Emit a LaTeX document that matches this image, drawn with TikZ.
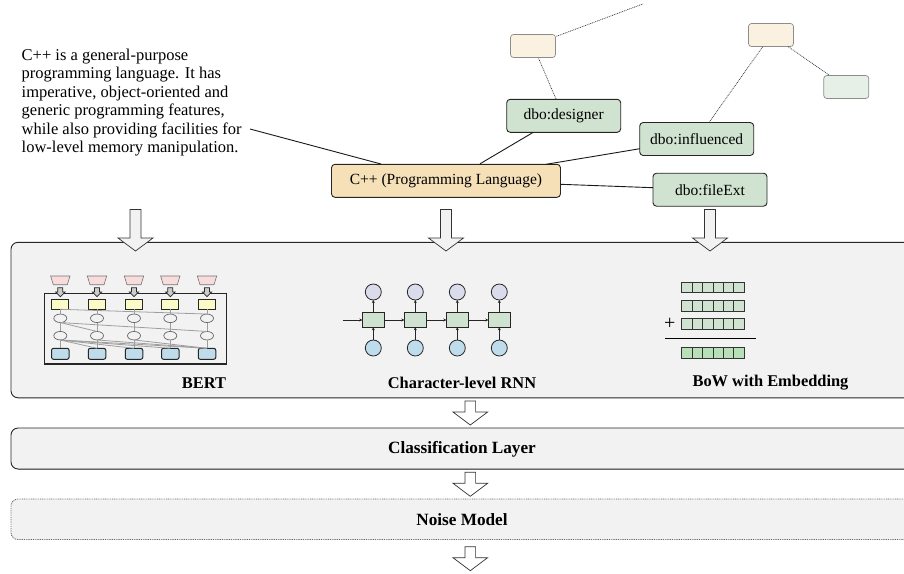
\documentclass[tikz,border=0pt]{standalone}
\usepackage{fontspec}
\setmainfont{Liberation Serif}
\usetikzlibrary{positioning,calc,shapes.geometric,arrows.meta}
\definecolor{pgray}{HTML}{F2F2F2}
\definecolor{kgreen}{HTML}{D0E3D0}
\definecolor{korange}{HTML}{F6E0B8}
\definecolor{lorange}{HTML}{FAF1E0}
\definecolor{lgreen}{HTML}{E7F0E7}
\definecolor{bblue}{HTML}{BEDCEB}
\definecolor{byellow}{HTML}{FBFBC8}
\definecolor{bpink}{HTML}{F8DCDC}
\definecolor{rlav}{HTML}{DADCEC}
\definecolor{bowg}{HTML}{B8E0B8}
\tikzset{
 x=1pt,y=-1pt,
 every node/.style={inner sep=0pt,outer sep=0pt,font=\fontsize{15.5}{18}\selectfont},
 panel/.style={rounded corners=7pt,draw=black!85,line width=.9pt,fill=pgray,minimum width=910pt,anchor=north west},
 panelnote/.style={font=\fontsize{16.4}{18}\selectfont\bfseries},
 kg/.style={rounded corners=3.5pt,draw=black!85,line width=.9pt,fill=kgreen,minimum width=114pt,minimum height=33pt},
 central/.style={rounded corners=3.5pt,draw=black!85,line width=.9pt,fill=korange,minimum width=229pt,minimum height=33pt},
 ghosto/.style={rounded corners=3pt,draw=black!45,line width=.7pt,fill=lorange,minimum width=45pt,minimum height=23pt},
 ghostg/.style={rounded corners=3pt,draw=black!45,line width=.7pt,fill=lgreen,minimum width=45pt,minimum height=23pt},
 solidlink/.style={draw=black!90,line width=.9pt},
 dotlink/.style={draw=black!80,line width=.7pt,dash pattern=on .9pt off .9pt},
 flow/.style={draw=black!80,line width=.7pt,fill=pgray},
 enc/.style={rectangle,draw=black!85,line width=1pt,fill=bblue,rounded corners=2pt,minimum width=17.5pt,minimum height=11pt},
 hid/.style={ellipse,draw=black!60,line width=.7pt,fill=pgray,minimum width=13pt,minimum height=8.5pt},
 inp/.style={rectangle,draw=black!85,line width=1pt,fill=byellow,minimum width=17pt,minimum height=10pt},
 bline/.style={draw=black!38,line width=.8pt},
 cell/.style={rectangle,draw=black!85,line width=.8pt,fill=kgreen,minimum width=22pt,minimum height=14.5pt},
 rout/.style={circle,draw=black!85,line width=.8pt,fill=rlav,minimum size=16pt},
 rin/.style={circle,draw=black!85,line width=.8pt,fill=bblue,minimum size=16pt},
 rarrow/.style={draw=black!85,line width=.8pt,-{Stealth[length=3pt,width=3pt]}},
 bowc/.style={rectangle,draw=black!80,line width=.8pt,fill=kgreen,minimum width=10.4pt,minimum height=10.4pt},
 bows/.style={rectangle,draw=black!80,line width=.8pt,fill=bowg,minimum width=10.4pt,minimum height=10.4pt},
}
\newcommand{\bigarrow}[3]{% name, centre x, top y
 \draw[flow] (#2-5.5,#3) -- (#2+5.5,#3) -- (#2+5.5,#3+28.5) -- (#2+17.5,#3+28.5) -- (#2,#3+41.5) -- (#2-17.5,#3+28.5) -- (#2-5.5,#3+28.5) -- cycle;
 \coordinate (#1) at (#2,#3);}
\newcommand{\smallarrow}[3]{% name, centre x, top y
 \draw[flow,fill=white] (#2-5.3,#3) -- (#2+5.3,#3) -- (#2+5.3,#3+11) -- (#2+17.3,#3+11) -- (#2,#3+24) -- (#2-17.3,#3+11) -- (#2-5.3,#3+11) -- cycle;
 \coordinate (#1) at (#2,#3);}
\begin{document}
\begin{tikzpicture}
\useasboundingbox (0,0) rectangle (904,573);
% source text
\node[anchor=north west,align=left,font=\fontsize{16.5}{18.5}\selectfont] (desc) at (21.7,48.7) {C++ is a general-purpose\\programming language. It has\\imperative, object-oriented and\\generic programming features,\\while also providing facilities for\\low-level memory manipulation.};
\coordinate (descend) at (250,129);
% panels
\node[panel,minimum height=155.5pt] (enc) at (11,242.3) {};
\node[panel,minimum height=41pt] (cls) at (11,428) {};
\draw[draw=black!60,line width=1.4pt] ($(cls.south west)+(7,0.3)$) -- ($(cls.south east)+(-7,0.3)$);
\node[panel,minimum height=40.5pt,draw=black!60,dash pattern=on .9pt off .9pt] (noise) at (11,499) {};
% knowledge graph
\node[central] (cpp) at (446,180.8) {C++ (Programming Language)};
\node[kg] (designer) at (563.7,115.8) {dbo:designer};
\node[kg] (influenced) at (696.7,139) {dbo:influenced};
\node[kg] (fileext) at (710,189.7) {dbo:fileExt};
\node[ghosto] (g1) at (533,46) {};
\node[ghosto] (g2) at (771,35) {};
\node[ghostg] (g3) at (846.3,87) {};
\coordinate (gtop) at (642.7,4);
\draw[solidlink] (descend) -- (381,164);
\draw[solidlink] (480,163.8) -- (533.3,132.3);
\draw[solidlink] (546,164.3) -- (640,148.7);
\draw[solidlink] ($(cpp.east)+(0,3.5)$) -- ($(fileext.west)+(0,-2)$);
\draw[dotlink] (556,99) -- (538.3,57.7);
\draw[dotlink] (556.5,36.3) -- (gtop);
\draw[dotlink] (709,122.5) -- (762.7,46.7);
\draw[dotlink] (788.3,46.7) -- (829.3,75.3);
\node[panelnote] (bertlab) at (204,383) {BERT};
\node[panelnote] (rnnlab) at (462,383) {Character-level RNN};
\node[panelnote] (bowlab) at (770.5,383) {BoW with Embedding};
\node[panelnote,font=\fontsize{17.2}{18}\selectfont\bfseries] (clslab) at (462,449) {Classification Layer};
\node[panelnote,font=\fontsize{17.2}{18}\selectfont\bfseries] (noiselab) at (462,519.5) {Noise Model};
% big arrows
\bigarrow{a1}{135.5}{209.5}
\bigarrow{a2}{446}{209.5}
\bigarrow{a3}{710}{209.5}
\smallarrow{a4}{470.3}{401}
\smallarrow{a5}{470.3}{472.3}
\smallarrow{a6}{470.3}{546.7}
% BERT
\node[draw=black!85,line width=1.2pt,fill=pgray,minimum width=181.5pt,minimum height=70.7pt,anchor=north west] (bbox) at (44.7,293.3) {};
\foreach \i/\px in {1/60.3,2/97,3/134,4/170.3,5/207}{
  \draw[draw=black!55,line width=.6pt,fill=bpink] (\px-9.7,276) -- (\px+9.7,276) -- (\px+7,284.7) -- (\px-7,284.7) -- cycle;
  \node[inp] (i\i) at (\px,304.3) {};
  \node[hid] (ha\i) at (\px,318.3) {};
  \node[hid] (hb\i) at (\px,335.7) {};
  \node[enc] (e\i) at (\px,353.8) {};
  \draw[draw=black!85,line width=.7pt,fill=black!20] (\px-2.5,287.7) -- (\px+2.5,287.7) -- (\px+2.5,292) -- (\px+4.7,292) -- (\px,296.7) -- (\px-4.7,292) -- (\px-2.5,292) -- cycle;
  \draw[bline] (i\i) -- (ha\i);
  \draw[bline] (ha\i) -- (hb\i);
  \draw[bline] (hb\i) -- (e\i);
}
\draw[bline] (i1.south) -- (ha5.north);
\draw[bline] (ha1.south) -- (hb5.north);
\draw[bline] (ha1.south) -- (hb2.north);
\draw[bline] (hb1.south) -- (e2.north);
\draw[bline] (hb1.south) -- (e3.north);
\draw[bline] (hb1.south) -- (e4.north);
\draw[bline] (hb1.south) -- (e5.north);
\draw[bline] (hb2.south) -- (e5.north);
\draw[bline] (hb3.south) -- (e5.north);
% RNN
\coordinate (rstart) at (342.7,320);
\foreach \i/\px in {1/373.3,2/415.3,3/457.3,4/499.3}{
  \node[cell] (c\i) at (\px,320) {};
  \node[rout] (o\i) at (\px,292) {};
  \node[rin] (n\i) at (\px,348) {};
  \draw[rarrow] (c\i) -- (o\i);
  \draw[rarrow] (n\i) -- (c\i);
}
\draw[rarrow] (rstart) -- (c1);
\draw[rarrow] (c1) -- (c2);
\draw[rarrow] (c2) -- (c3);
\draw[rarrow] (c3) -- (c4);
% BoW
\foreach \rw/\py in {a/287.5,b/306,c/324}{
 \foreach \j in {0,...,5}{
  \node[bowc] (\rw\j) at ({686.9+\j*10.4},\py) {};
 }}
\foreach \j in {0,...,5}{
  \node[bows] (s\j) at ({686.9+\j*10.4},353) {};
}
\node[font=\fontsize{20}{20}\selectfont] (plus) at (669.7,324) {+};
\coordinate (ruleL) at (665,338.7);
\coordinate (ruleR) at (755.5,338.7);
\draw[draw=black,line width=.9pt] (ruleL) -- (ruleR);
\end{tikzpicture}
\end{document}
